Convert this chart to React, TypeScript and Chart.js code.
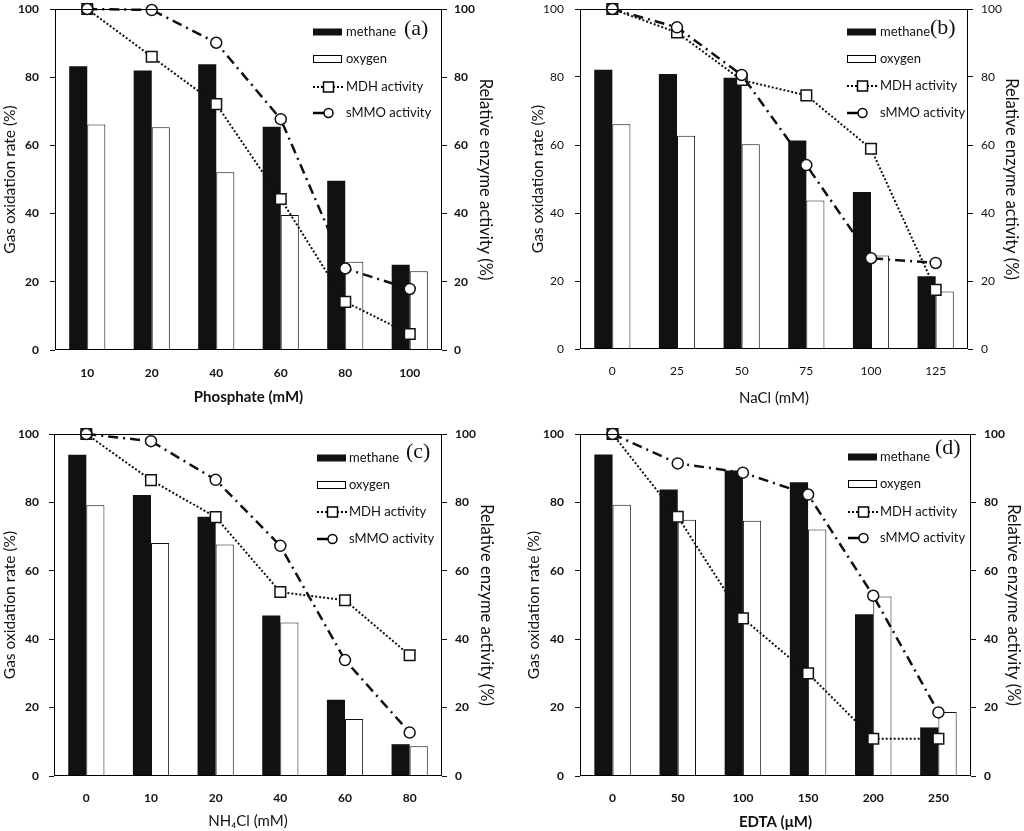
import React, { useEffect, useRef } from 'react';
import { Chart, registerables } from 'chart.js';

Chart.register(...registerables);

// ---------- DATA ----------
const phosphateTicks = ['10', '20', '40', '60', '80', '100'];
const phosphateMethane = [83.2, 82.0, 83.8, 65.5, 49.6, 25.0];
const phosphateOxygen = [66.1, 65.3, 52.1, 39.6, 25.9, 23.1];
const phosphateMDH = [100, 86.0, 72.1, 44.3, 14.1, 4.7];
const phosphateSMMO = [100, 99.7, 90.1, 67.7, 23.9, 17.9];

const naclTicks = ['0', '25', '50', '75', '100', '125'];
const naclMethane = [82.1, 80.9, 79.8, 61.3, 46.2, 21.4];
const naclOxygen = [66.1, 62.7, 60.2, 43.7, 27.5, 16.9];
const naclMDH = [100, 93.1, 79.1, 74.6, 58.9, 17.4];
const naclSMMO = [100, 94.6, 80.6, 54.1, 26.7, 25.3];

const nh4clTicks = ['0', '10', '20', '40', '60', '80'];
const nh4clMethane = [93.9, 82.2, 75.8, 46.9, 22.3, 9.3];
const nh4clOxygen = [79.2, 68.1, 67.7, 44.9, 16.7, 8.7];
const nh4clMDH = [100, 86.5, 75.7, 53.8, 51.4, 35.3];
const nh4clSMMO = [100, 97.9, 86.6, 67.3, 33.9, 12.7];

const edtaTicks = ['0', '50', '100', '150', '200', '250'];
const edtaMethane = [94.0, 83.8, 89.3, 85.9, 47.3, 14.2];
const edtaOxygen = [79.3, 74.9, 74.6, 72.1, 52.5, 18.7];
const edtaMDH = [100, 75.8, 46.1, 30.0, 10.9, 10.9];
const edtaSMMO = [100, 91.4, 88.7, 82.3, 52.7, 18.6];

const legendLabels = ['methane', 'oxygen', 'MDH activity', 'sMMO activity'];
const leftTitle = 'Gas oxidation rate (%)';
const rightTitle = 'Relative enzyme activity (%)';

// ---------- PANEL LAYOUT ----------
type Panel = {
  key: string;
  tag: string;
  xTitle: string;
  ticks: string[];
  methane: number[];
  oxygen: number[];
  mdh: number[];
  smmo: number[];
  left: number;
  top: number;
  w: number;
  h: number;
  padTop: number;
  leftW: number;
  rightW: number;
  bottomH: number;
  leftTitlePad: number;
  rightTitlePad: number;
  xTitlePad: number;
  leftTickPad: number;
  rightTickPad: number;
  xTickPad: number;
  tickBold: boolean;
  xTitleBold: boolean;
  symX: number;
  textX: number;
  legYs: number[];
  tagX: number;
  tagY: number;
};

const panels: Panel[] = [
  {
    key: 'a', tag: '(a)', xTitle: 'Phosphate (mM)', ticks: phosphateTicks,
    methane: phosphateMethane, oxygen: phosphateOxygen, mdh: phosphateMDH, smmo: phosphateSMMO,
    left: 0, top: 0, w: 512, h: 415, padTop: 9, leftW: 55, rightW: 70, bottomH: 65,
    leftTitlePad: 1, rightTitlePad: 17, xTitlePad: 9, leftTickPad: 11, rightTickPad: 7, xTickPad: 16,
    tickBold: true, xTitleBold: true,
    symX: 313, textX: 346, legYs: [32, 59, 87, 113], tagX: 404, tagY: 29,
  },
  {
    key: 'b', tag: '(b)', xTitle: 'NaCl (mM)', ticks: naclTicks,
    methane: naclMethane, oxygen: naclOxygen, mdh: naclMDH, smmo: naclSMMO,
    left: 512, top: 0, w: 512, h: 415, padTop: 9, leftW: 68, rightW: 56, bottomH: 66,
    leftTitlePad: 17, rightTitlePad: 3, xTitlePad: 8, leftTickPad: 11, rightTickPad: 8, xTickPad: 15,
    tickBold: false, xTitleBold: false,
    symX: 335, textX: 368, legYs: [32, 59, 86, 113], tagX: 418, tagY: 28,
  },
  {
    key: 'c', tag: '(c)', xTitle: 'NH\u2084Cl (mM)', ticks: nh4clTicks,
    methane: nh4clMethane, oxygen: nh4clOxygen, mdh: nh4clMDH, smmo: nh4clSMMO,
    left: 0, top: 415, w: 512, h: 416, padTop: 19, leftW: 54, rightW: 70, bottomH: 55,
    leftTitlePad: 1, rightTitlePad: 16, xTitlePad: 1, leftTickPad: 10, rightTickPad: 8, xTickPad: 15,
    tickBold: true, xTitleBold: false,
    symX: 317, textX: 349, legYs: [43, 70, 97, 124], tagX: 406, tagY: 37,
  },
  {
    key: 'd', tag: '(d)', xTitle: 'EDTA (\u03bcM)', ticks: edtaTicks,
    methane: edtaMethane, oxygen: edtaOxygen, mdh: edtaMDH, smmo: edtaSMMO,
    left: 512, top: 415, w: 512, h: 416, padTop: 19, leftW: 68, rightW: 53, bottomH: 55,
    leftTitlePad: 13, rightTitlePad: 1, xTitlePad: 0, leftTickPad: 11, rightTickPad: 8, xTickPad: 15,
    tickBold: true, xTitleBold: true,
    symX: 336, textX: 368, legYs: [42, 69, 97, 123], tagX: 423, tagY: 33,
  },
];

const FONT = 'Lato, "Open Sans", sans-serif';
const MDH_DASH = [2, 2];
const SMMO_DASH = [10, 5, 2, 5];

const decorPlugin = {
  id: 'panelDecor',
  afterDatasetsDraw(chart: any, _args: any, opts: any) {
    const { ctx, chartArea: ca } = chart;
    const p: Panel = opts.panel;
    ctx.save();
    // frame
    ctx.strokeStyle = '#000';
    ctx.lineWidth = 1;
    ctx.setLineDash([]);
    ctx.strokeRect(Math.round(ca.left) + 0.5, Math.round(ca.top) + 0.5,
      Math.round(ca.right - ca.left) - 1, Math.round(ca.bottom - ca.top) - 1);

    // legend
    const sx = p.symX;
    const ys = p.legYs;
    const sw = 29;
    // methane
    ctx.fillStyle = '#111';
    ctx.fillRect(sx, ys[0] - 3.5, sw, 7);
    // oxygen
    ctx.fillStyle = '#fff';
    ctx.fillRect(sx, ys[1] - 3.5, sw, 7);
    ctx.strokeStyle = '#000';
    ctx.lineWidth = 1;
    ctx.strokeRect(sx + 0.5, ys[1] - 3.5, sw - 1, 7);
    // MDH
    ctx.lineWidth = 2;
    ctx.setLineDash(MDH_DASH);
    ctx.beginPath();
    ctx.moveTo(sx, ys[2]);
    ctx.lineTo(sx + sw + 2, ys[2]);
    ctx.stroke();
    ctx.setLineDash([]);
    ctx.fillStyle = '#fff';
    ctx.lineWidth = 1.5;
    ctx.fillRect(sx + 10.5, ys[2] - 5, 10, 10);
    ctx.strokeRect(sx + 10.5, ys[2] - 5, 10, 10);
    // sMMO
    ctx.lineWidth = 2.5;
    ctx.beginPath();
    ctx.moveTo(sx, ys[3]);
    ctx.lineTo(sx + 11, ys[3]);
    ctx.stroke();
    ctx.lineWidth = 1.5;
    ctx.beginPath();
    ctx.arc(sx + 15.5, ys[3], 4.5, 0, Math.PI * 2);
    ctx.fill();
    ctx.stroke();

    ctx.fillStyle = '#111';
    ctx.font = `13px ${FONT}`;
    ctx.textAlign = 'left';
    ctx.textBaseline = 'middle';
    legendLabels.forEach((t, i) => ctx.fillText(t, p.textX, ys[i]));

    // panel tag
    ctx.font = '22px "Liberation Serif", "DejaVu Serif", serif';
    ctx.fillText(p.tag, p.tagX, p.tagY);
    ctx.restore();
  },
};

function PanelChart({ p }: { p: Panel }) {
  const ref = useRef<HTMLCanvasElement | null>(null);
  useEffect(() => {
    if (!ref.current) return;
    const tickFont = { family: FONT, size: 12, weight: p.tickBold ? 'bold' : 'normal' } as any;
    const chart = new Chart(ref.current, {
      type: 'bar',
      data: {
        labels: p.ticks,
        datasets: [
          {
            type: 'line',
            label: legendLabels[2],
            data: p.mdh,
            yAxisID: 'y1',
            borderColor: '#111',
            borderWidth: 2,
            borderDash: MDH_DASH,
            pointStyle: 'rect',
            pointRadius: 7.5,
            pointBorderWidth: 1.5,
            pointBackgroundColor: '#fff',
            pointBorderColor: '#111',
            fill: false,
            tension: 0,
            clip: false,
            order: 1,
          } as any,
          {
            type: 'line',
            label: legendLabels[3],
            data: p.smmo,
            yAxisID: 'y1',
            borderColor: '#111',
            borderWidth: 2.5,
            borderDash: SMMO_DASH,
            pointStyle: 'circle',
            pointRadius: 5.5,
            pointBorderWidth: 1.5,
            pointBackgroundColor: '#fff',
            pointBorderColor: '#111',
            fill: false,
            tension: 0,
            clip: false,
            order: 0,
          } as any,
          {
            type: 'bar',
            label: legendLabels[0],
            data: p.methane,
            yAxisID: 'y',
            backgroundColor: '#111',
            borderWidth: 0,
            categoryPercentage: 0.56,
            barPercentage: 1,
            order: 2,
          } as any,
          {
            type: 'bar',
            label: legendLabels[1],
            data: p.oxygen,
            yAxisID: 'y',
            backgroundColor: '#fff',
            borderColor: '#111',
            borderWidth: 1,
            categoryPercentage: 0.56,
            barPercentage: 1,
            order: 2,
          } as any,
        ],
      },
      options: {
        responsive: false,
        animation: false,
        layout: { padding: { top: p.padTop, left: 0, right: 0, bottom: 0 } },
        plugins: {
          legend: { display: false },
          tooltip: { enabled: false },
          panelDecor: { panel: p },
        } as any,
        scales: {
          x: {
            offset: true,
            grid: { display: false, drawTicks: false },
            border: { display: false },
            ticks: { color: '#111', font: tickFont, padding: p.xTickPad, maxRotation: 0 },
            title: {
              display: true,
              text: p.xTitle,
              color: '#111',
              font: { family: FONT, size: 15, weight: p.xTitleBold ? 'bold' : 'normal' },
              padding: { top: 0, bottom: p.xTitlePad },
            },
            afterFit: (s: any) => {
              s.height = p.bottomH;
              s.paddingLeft = 0;
              s.paddingRight = 0;
            },
          },
          y: {
            position: 'left',
            min: 0,
            max: 100,
            grid: { display: true, drawOnChartArea: false, tickLength: 5, color: '#111' },
            border: { display: false },
            ticks: { stepSize: 20, color: '#111', font: tickFont, padding: p.leftTickPad },
            title: {
              display: true,
              text: leftTitle,
              color: '#111',
              font: { family: FONT, size: 15.5, weight: 'normal' },
              padding: { top: p.leftTitlePad, bottom: 0 },
            },
            afterFit: (s: any) => {
              s.width = p.leftW;
              s.paddingTop = 0;
              s.paddingBottom = 0;
            },
          },
          y1: {
            position: 'right',
            min: 0,
            max: 100,
            grid: { display: true, drawOnChartArea: false, tickLength: 5, color: '#111' },
            border: { display: false },
            ticks: { stepSize: 20, color: '#111', font: tickFont, padding: p.rightTickPad },
            title: {
              display: true,
              text: rightTitle,
              color: '#111',
              font: { family: FONT, size: 16.5, weight: 'normal' },
              padding: { top: p.rightTitlePad, bottom: 0 },
            },
            afterFit: (s: any) => {
              s.width = p.rightW;
              s.paddingTop = 0;
              s.paddingBottom = 0;
            },
          },
        },
      } as any,
      plugins: [decorPlugin as any],
    });
    return () => chart.destroy();
  }, [p]);
  return (
    <canvas
      ref={ref}
      width={p.w}
      height={p.h}
      style={{ position: 'absolute', left: p.left, top: p.top, width: p.w, height: p.h }}
    />
  );
}

export default function App() {
  return (
    <div style={{ position: 'absolute', left: 0, top: 0, width: 1024, height: 831, background: '#fff' }}>
      {panels.map((p) => (
        <PanelChart key={p.key} p={p} />
      ))}
    </div>
  );
}
